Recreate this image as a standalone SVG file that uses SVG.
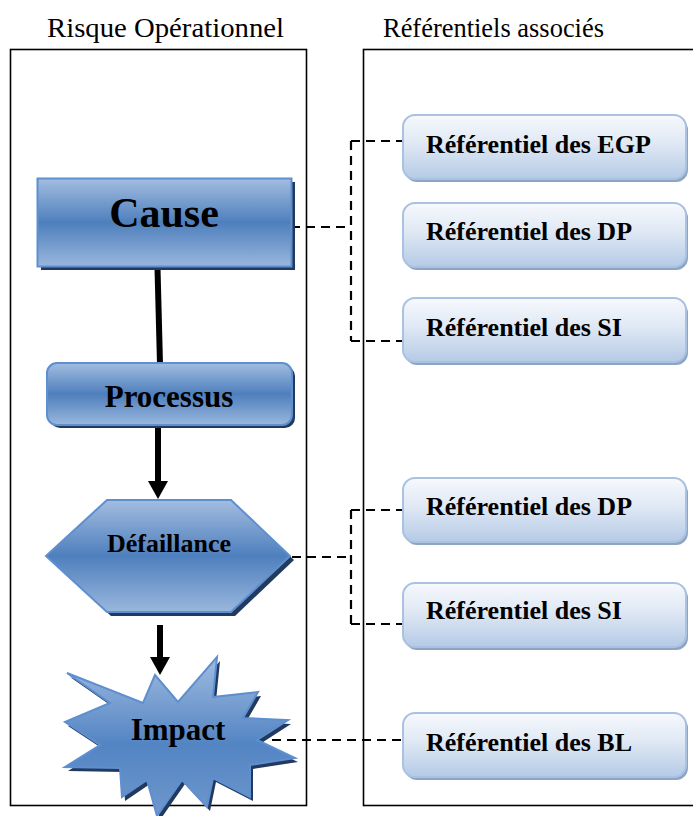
<svg xmlns="http://www.w3.org/2000/svg" width="693" height="816" viewBox="0 0 693 816">
  <defs>
    <linearGradient id="blueFill" x1="0" y1="0" x2="0" y2="1">
      <stop offset="0" stop-color="#a3bde0"/>
      <stop offset="0.5" stop-color="#4e7fbd"/>
      <stop offset="1" stop-color="#9ab7dd"/>
    </linearGradient>
    <linearGradient id="burstFill" x1="0" y1="0" x2="0" y2="1">
      <stop offset="0" stop-color="#a0bce0"/>
      <stop offset="0.55" stop-color="#5384c3"/>
      <stop offset="1" stop-color="#6f98cc"/>
    </linearGradient>
    <linearGradient id="refFill" x1="0" y1="0" x2="0" y2="1">
      <stop offset="0" stop-color="#f7f9fd"/>
      <stop offset="0.45" stop-color="#dfe8f4"/>
      <stop offset="1" stop-color="#b5cae6"/>
    </linearGradient>
    <!-- solid triangular head, base sits on the end of the line -->
    <marker id="arrowHead" viewBox="0 0 18 20" refX="1" refY="10" markerWidth="18" markerHeight="20" markerUnits="userSpaceOnUse" orient="auto">
      <path d="M0,0 L18,10 L0,20 Z" fill="#000"/>
    </marker>
  </defs>
  <style>
    .title { font-family: "Liberation Serif", "Times New Roman", serif; font-size: 27px; fill: #000; }
    .frame { fill: none; stroke: #000; stroke-width: 1.6; }
    .shape { fill: url(#blueFill); stroke: #5e8fd0; stroke-width: 2; }
    .shadow { fill: #213a5e; }
    .label { font-family: "Liberation Serif", "Times New Roman", serif; font-weight: bold; fill: #000; text-anchor: middle; }
    .ref rect.box { fill: url(#refFill); stroke: #a9c2e2; stroke-width: 2; }
    .ref rect.sh { fill: #8da4c2; }
    .ref text { font-family: "Liberation Serif", "Times New Roman", serif; font-weight: bold; font-size: 26px; fill: #000; }
    .dash { fill: none; stroke: #000; stroke-width: 2.2; stroke-dasharray: 9 6; }
    .flow { fill: none; stroke: #000; stroke-width: 6; }
  </style>

  <!-- column headings -->
  <text class="title" x="47" y="37" textLength="237" lengthAdjust="spacingAndGlyphs">Risque Opérationnel</text>
  <text class="title" x="383" y="37" font-size="25" textLength="221" lengthAdjust="spacingAndGlyphs">Référentiels associés</text>

  <!-- column frames -->
  <rect class="frame" x="10.5" y="49.5" width="296" height="756"/>
  <rect class="frame" x="363.5" y="49.5" width="340" height="756"/>

  <!-- connectors -->
  <g id="connectors">
    <path class="flow" d="M157.5,268 L160,364"/>
    <path class="flow" d="M158,428 V482" marker-end="url(#arrowHead)"/>
    <path class="flow" d="M160,625 V658" marker-end="url(#arrowHead)"/>
    <path class="dash" d="M291,227 H350"/>
    <path class="dash" d="M351,141 V341"/>
    <path class="dash" d="M351,141 H402"/>
    <path class="dash" d="M351,341 H402"/>
    <path class="dash" d="M292,557 H350"/>
    <path class="dash" d="M351,510 V624"/>
    <path class="dash" d="M351,510 H402"/>
    <path class="dash" d="M351,624 H402"/>
    <path class="dash" d="M272,740 H402"/>
  </g>

  <!-- risk chain -->
  <g id="cause">
    <rect class="shadow" x="41" y="182" width="254" height="88"/>
    <rect class="shape" x="37.5" y="178.5" width="254" height="88"/>
    <text class="label" x="164" y="227" font-size="42">Cause</text>
  </g>
  <g id="processus">
    <rect class="shadow" x="50" y="366" width="245" height="62" rx="10"/>
    <rect class="shape" x="47" y="363" width="245" height="62" rx="10"/>
    <text class="label" x="169" y="407" font-size="31">Processus</text>
  </g>
  <g id="defaillance">
    <polygon class="shadow" points="50,560 111,504 235,504 294,560 235,616 111,616"/>
    <polygon class="shape" points="46,556 107,500 231,500 290,556 231,612 107,612"/>
    <text class="label" x="169" y="552" font-size="26">Défaillance</text>
  </g>
  <g id="impact">
    <polygon class="shadow" transform="translate(3,4)" points="155,675 178,702 217,657 213,697 258,692 243,718 288,720 257,740 295,758 250,765 250,797 213,778 207,807 182,780 157,816 147,780 122,797 120,768 65,767 100,745 65,722 110,703 67,673 143,703"/>
    <polygon fill="url(#burstFill)" stroke="#5e8fd0" stroke-width="2" points="155,675 178,702 217,657 213,697 258,692 243,718 288,720 257,740 295,758 250,765 250,797 213,778 207,807 182,780 157,816 147,780 122,797 120,768 65,767 100,745 65,722 110,703 67,673 143,703"/>
    <text class="label" x="178" y="740" font-size="31">Impact</text>
  </g>

  <!-- associated reference sets -->
  <g id="ref-egp" class="ref">
    <rect class="sh" x="405" y="118" width="283" height="64" rx="12"/>
    <rect class="box" x="403" y="115" width="283" height="64" rx="12"/>
    <text x="426" y="153">Référentiel des EGP</text>
  </g>
  <g id="ref-dp-1" class="ref">
    <rect class="sh" x="405" y="206" width="283" height="64" rx="12"/>
    <rect class="box" x="403" y="203" width="283" height="64" rx="12"/>
    <text x="426" y="240">Référentiel des DP</text>
  </g>
  <g id="ref-si-1" class="ref">
    <rect class="sh" x="405" y="301" width="283" height="64" rx="12"/>
    <rect class="box" x="403" y="298" width="283" height="64" rx="12"/>
    <text x="426" y="336">Référentiel des SI</text>
  </g>
  <g id="ref-dp-2" class="ref">
    <rect class="sh" x="405" y="481" width="283" height="64" rx="12"/>
    <rect class="box" x="403" y="478" width="283" height="64" rx="12"/>
    <text x="426" y="515">Référentiel des DP</text>
  </g>
  <g id="ref-si-2" class="ref">
    <rect class="sh" x="405" y="586" width="283" height="64" rx="12"/>
    <rect class="box" x="403" y="583" width="283" height="64" rx="12"/>
    <text x="426" y="619">Référentiel des SI</text>
  </g>
  <g id="ref-bl" class="ref">
    <rect class="sh" x="405" y="716" width="283" height="64" rx="12"/>
    <rect class="box" x="403" y="713" width="283" height="64" rx="12"/>
    <text x="426" y="751">Référentiel des BL</text>
  </g>
</svg>
